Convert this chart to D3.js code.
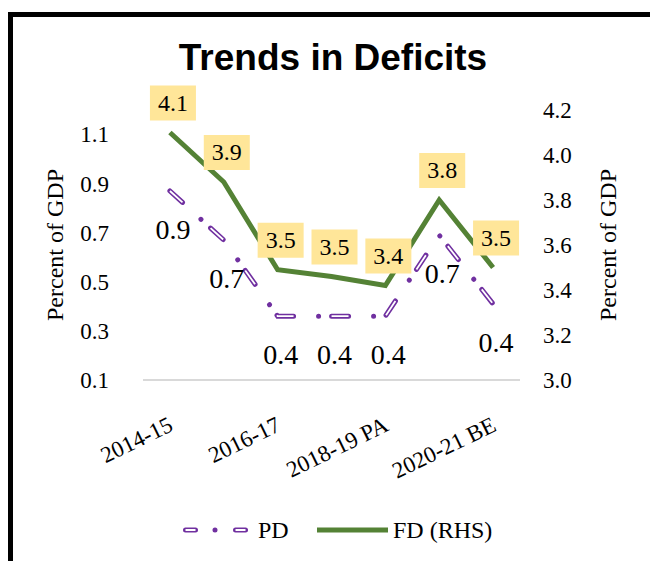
<!DOCTYPE html>
<html>
<head>
<meta charset="utf-8">
<script src="https://cdn.jsdelivr.net/npm/d3@7"></script>
<style>
  body { margin: 0; background: #fff; }
</style>
</head>
<body>
<div id="chart"></div>
<script>
var categories = ["2014-15", "2015-16", "2016-17", "2017-18", "2018-19 PA", "2019-20", "2020-21 BE"];
var shownLabels = ["2014-15", "2016-17", "2018-19 PA", "2020-21 BE"];
var pd = [0.87, 0.67, 0.36, 0.36, 0.36, 0.69, 0.41];
var fd = [4.10, 3.88, 3.49, 3.46, 3.42, 3.80, 3.50];
var leftTicks = [0.1, 0.3, 0.5, 0.7, 0.9, 1.1];
var rightTicks = [3.0, 3.2, 3.4, 3.6, 3.8, 4.0, 4.2];

var W = 650, H = 561;
var plotL = 143, plotR = 520, plotT = 110, plotB = 380;
var purple = "#7030A0", green = "#548235";
var serif = "'Liberation Serif', 'Times New Roman', Times, serif";

var svg = d3.select("#chart").append("svg")
    .attr("width", W).attr("height", H)
    .attr("font-family", serif);

// outer frame (runs off the right / bottom edge like the source)
svg.append("rect")
    .attr("x", 10.5).attr("y", 14.5)
    .attr("width", 700).attr("height", 600)
    .attr("fill", "none").attr("stroke", "#000").attr("stroke-width", 5);

var x = d3.scalePoint().domain(categories).range([plotL, plotR]).padding(0.5);
var yL = d3.scaleLinear().domain([0.1, 1.2]).range([plotB, plotT]);
var yR = d3.scaleLinear().domain([3.0, 4.2]).range([plotB, plotT]);

// baseline
svg.append("line")
    .attr("x1", plotL).attr("x2", plotR)
    .attr("y1", plotB).attr("y2", plotB)
    .attr("stroke", "#D9D9D9").attr("stroke-width", 2);

var axL = svg.append("g").attr("transform", "translate(" + plotL + ",0)")
    .call(d3.axisLeft(yL).tickValues(leftTicks).tickSize(0).tickPadding(34).tickFormat(d3.format(".1f")));
var axR = svg.append("g").attr("transform", "translate(" + plotR + ",0)")
    .call(d3.axisRight(yR).tickValues(rightTicks).tickSize(0).tickPadding(23).tickFormat(d3.format(".1f")));
[axL, axR].forEach(function(a) {
    a.attr("font-family", serif).attr("font-size", 23);
    a.select(".domain").remove();
    a.selectAll("text").attr("fill", "#000");
});

var axX = svg.append("g").attr("transform", "translate(0," + plotB + ")")
    .call(d3.axisBottom(x).tickValues(shownLabels).tickSize(0));
axX.attr("font-family", serif).attr("font-size", 23);
axX.select(".domain").remove();
axX.selectAll("text")
    .attr("fill", "#000")
    .attr("text-anchor", "end")
    .attr("y", 0).attr("dy", 0)
    .attr("transform", "translate(4,50) rotate(-26)");

// axis titles
svg.append("text")
    .attr("transform", "translate(63,245) rotate(-90)")
    .attr("text-anchor", "middle")
    .attr("font-size", 24)
    .text("Percent of GDP");
svg.append("text")
    .attr("transform", "translate(616,245) rotate(-90)")
    .attr("text-anchor", "middle")
    .attr("font-size", 24)
    .text("Percent of GDP");

// FD line (right axis)
var fdLine = d3.line()
    .x(function(d, i) { return x(categories[i]); })
    .y(function(d) { return yR(d); });
svg.append("path")
    .datum(fd)
    .attr("d", fdLine)
    .attr("fill", "none")
    .attr("stroke", green)
    .attr("stroke-width", 5);

// PD line (left axis) - hollow long-dash-dot
var pdLine = d3.line()
    .x(function(d, i) { return x(categories[i]); })
    .y(function(d) { return yL(d); });
svg.append("path")
    .datum(pd)
    .attr("d", pdLine)
    .attr("fill", "none")
    .attr("stroke", purple)
    .attr("stroke-width", 5)
    .attr("stroke-linecap", "round")
    .attr("stroke-dasharray", "17,25,0.01,13");
svg.append("path")
    .datum(pd)
    .attr("d", pdLine)
    .attr("fill", "none")
    .attr("stroke", "#fff")
    .attr("stroke-width", 1.8)
    .attr("stroke-linecap", "butt")
    .attr("stroke-dasharray", "17,25,0,13");

// PD labels (below points)
svg.selectAll(".pdlab")
    .data(pd)
    .enter().append("text")
    .attr("class", "pdlab")
    .attr("x", function(d, i) { return x(categories[i]) + 3; })
    .attr("y", function(d) { return yL(d) + 48; })
    .attr("text-anchor", "middle")
    .attr("font-size", 28)
    .text(function(d) { return d3.format(".1f")(d); });

// FD labels (above points, yellow boxes)
var fdLab = svg.selectAll(".fdlab")
    .data(fd)
    .enter().append("g")
    .attr("class", "fdlab")
    .attr("transform", function(d, i) {
        return "translate(" + (x(categories[i]) + 3) + "," + (yR(d) - 30) + ")";
    });
fdLab.append("rect")
    .attr("x", -23).attr("y", -17)
    .attr("width", 46).attr("height", 35)
    .attr("fill", "#FFE699");
fdLab.append("text")
    .attr("text-anchor", "middle")
    .attr("y", 8)
    .attr("font-size", 24)
    .text(function(d) { return d3.format(".1f")(d); });

// legend
var ly = 530;
svg.append("line")
    .attr("x1", 185.5).attr("x2", 246)
    .attr("y1", ly).attr("y2", ly)
    .attr("stroke", purple).attr("stroke-width", 5)
    .attr("stroke-linecap", "round")
    .attr("stroke-dasharray", "10,19.5,0.01,20.5");
svg.append("line")
    .attr("x1", 185.5).attr("x2", 246)
    .attr("y1", ly).attr("y2", ly)
    .attr("stroke", "#fff").attr("stroke-width", 1.8)
    .attr("stroke-dasharray", "10,19.5,0,20.5");
svg.append("text")
    .attr("x", 258).attr("y", ly + 8)
    .attr("font-size", 24)
    .text("PD");
svg.append("line")
    .attr("x1", 317).attr("x2", 388)
    .attr("y1", ly).attr("y2", ly)
    .attr("stroke", green).attr("stroke-width", 5);
svg.append("text")
    .attr("x", 393).attr("y", ly + 8)
    .attr("font-size", 24)
    .text("FD (RHS)");

// title
svg.append("text")
    .attr("x", 333).attr("y", 70)
    .attr("text-anchor", "middle")
    .attr("font-family", "'Liberation Sans', Arial, sans-serif")
    .attr("font-weight", "bold")
    .attr("font-size", 37)
    .text("Trends in Deficits");
</script>
</body>
</html>
